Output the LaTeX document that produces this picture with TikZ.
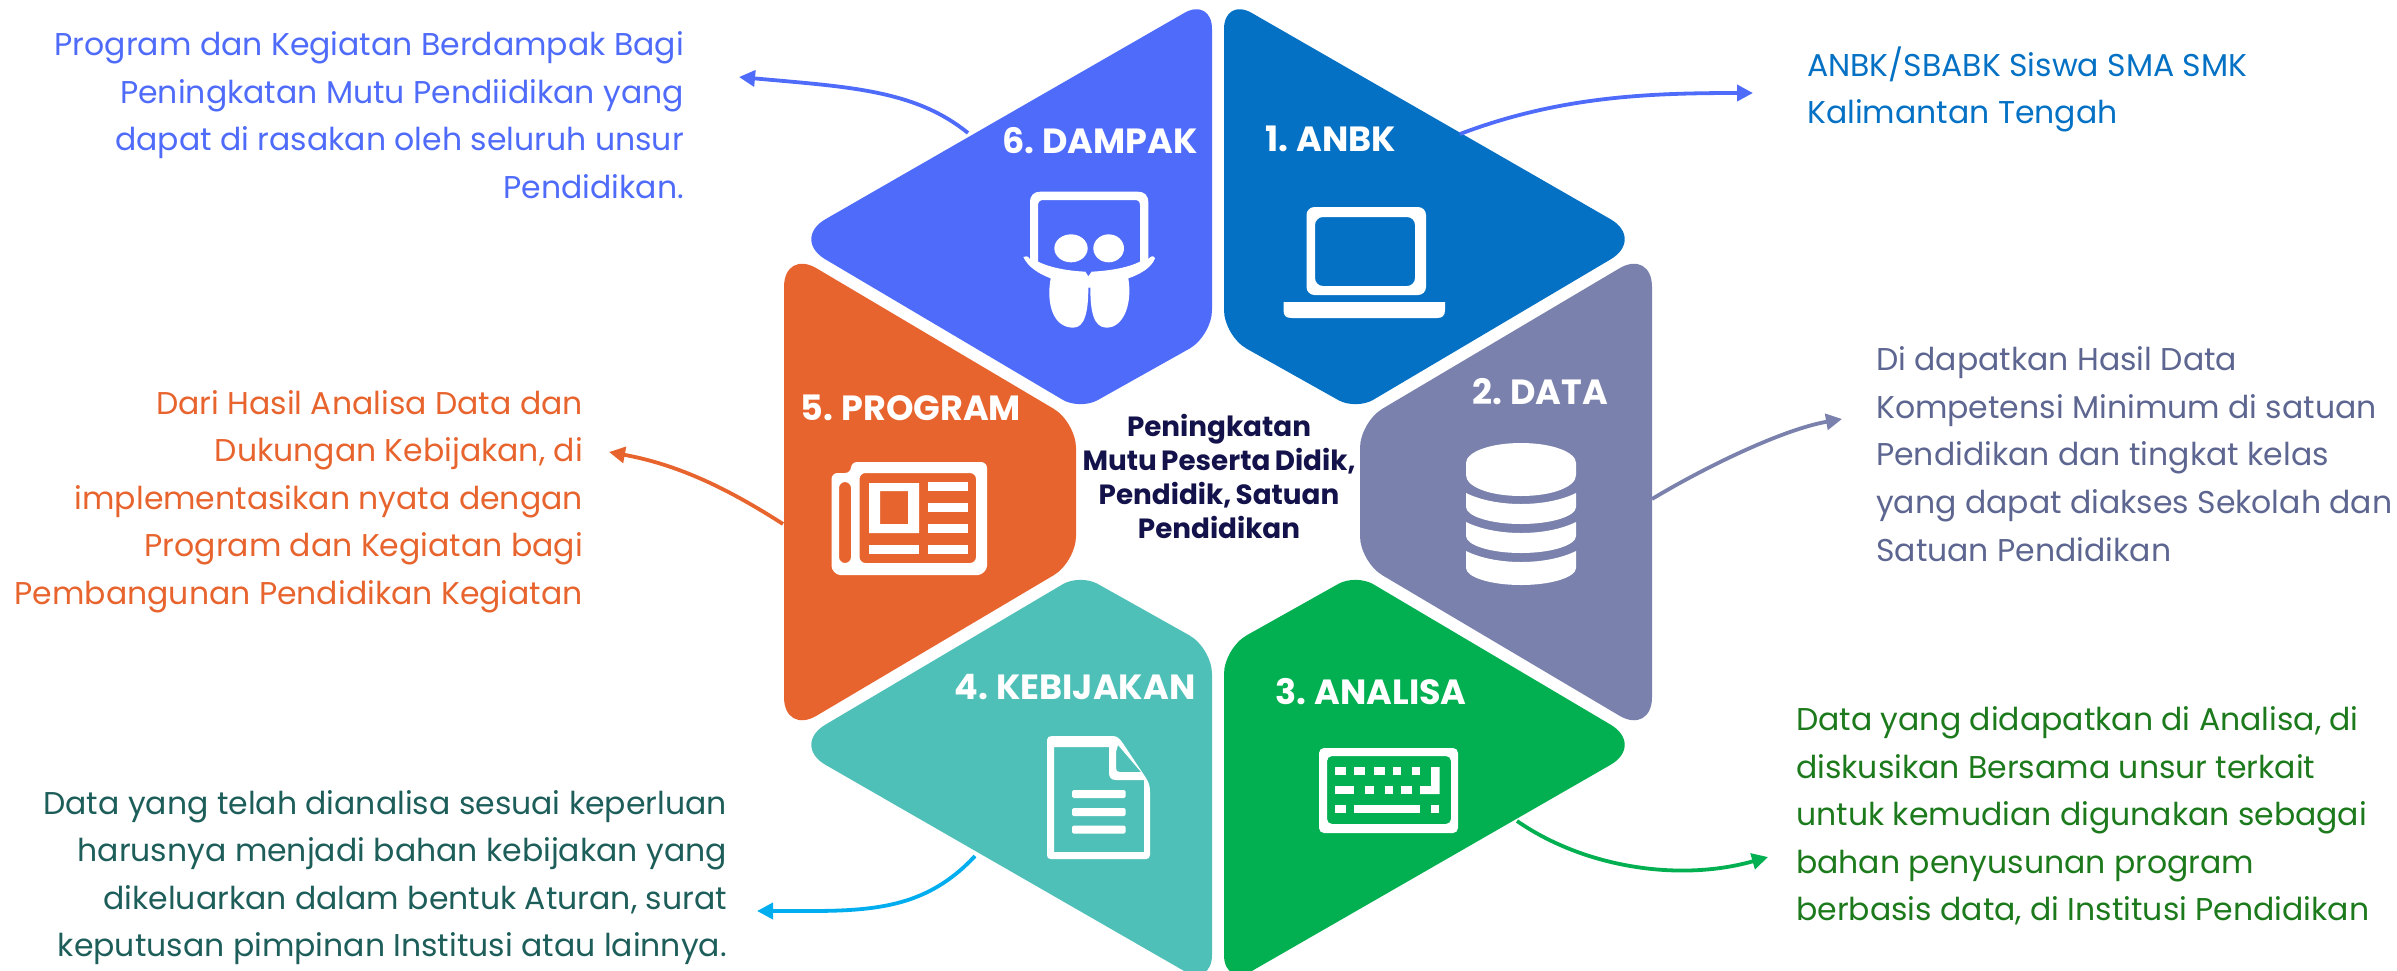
\documentclass[tikz,border=0pt]{standalone}
\usepackage{fontspec}
\setmainfont{Poppins}
\newfontfamily\tightfam[WordSpace=0.6]{Poppins}
\newfontfamily\midfam[WordSpace=0.75]{Poppins}
\usetikzlibrary{calc,arrows.meta}
\definecolor{cblue}{HTML}{0471C4}
\definecolor{cgrey}{HTML}{7A81AC}
\definecolor{cgreen}{HTML}{02B051}
\definecolor{cteal}{HTML}{4EC0B8}
\definecolor{corange}{HTML}{E8642E}
\definecolor{cperi}{HTML}{4F6BFA}
\definecolor{ccyan}{HTML}{00AEEF}
\definecolor{tgrey}{HTML}{5D6690}
\definecolor{tgreen}{HTML}{1C7A1C}
\definecolor{tteal}{HTML}{1D5E5A}
\definecolor{cnavy}{HTML}{14124A}
\newcommand\rc[4]{-- ($(#2)!#4!(#1)$) .. controls ($(#2)!{0.45*#4}!(#1)$) and ($(#2)!{0.45*#4}!(#3)$) .. ($(#2)!#4!(#3)$) }
\newcommand\hexa[5]{\fill[#1] ($(#2)!.5!(#3)$) \rc{#2}{#3}{#4}{40pt} \rc{#3}{#4}{#5}{20pt} \rc{#4}{#5}{#2}{26pt} \rc{#5}{#2}{#3}{32pt} -- cycle;}
\newcommand\hexb[5]{\fill[#1] ($(#2)!.5!(#3)$) \rc{#2}{#3}{#4}{38pt} \rc{#3}{#4}{#5}{26pt} \rc{#4}{#5}{#2}{26pt} \rc{#5}{#2}{#3}{38pt} -- cycle;}
\tikzset{
  title/.style={font=\tightfam\fontsize{35}{38}\selectfont\bfseries,text=white,inner sep=0pt},
  body/.style={font=\fontsize{31.5}{47.6}\selectfont,inner sep=0pt},
  link/.style={line width=3.8pt,-{Triangle[length=16pt,width=16pt]}},
  ic/.style={fill=white,even odd rule}
}
\begin{document}
\begin{tikzpicture}[x=1pt,y=-1pt]
\useasboundingbox (0,0) rectangle (2397,970);
\clip (0,0) rectangle (2397,970);
% hexagon corners
\coordinate (a1) at (1224,-3); \coordinate (b1) at (1645,239); \coordinate (c1) at (1356,410); \coordinate (d1) at (1224,336);
\coordinate (a6) at (1212,-3); \coordinate (b6) at (791,239); \coordinate (c6) at (1080,410); \coordinate (d6) at (1212,336);
\coordinate (a3) at (1224,987); \coordinate (b3) at (1645,745); \coordinate (c3) at (1356,574); \coordinate (d3) at (1224,648);
\coordinate (a4) at (1212,987); \coordinate (b4) at (791,745); \coordinate (c4) at (1080,574); \coordinate (d4) at (1212,648);
\coordinate (a2) at (1652,249); \coordinate (b2) at (1652,735); \coordinate (c2) at (1360,562); \coordinate (d2) at (1360,422);
\coordinate (a5) at (784,249); \coordinate (b5) at (784,735); \coordinate (c5) at (1076,562); \coordinate (d5) at (1076,422);
\hexa{cblue}{a1}{b1}{c1}{d1}
\hexa{cperi}{a6}{b6}{c6}{d6}
\hexa{cgreen}{a3}{b3}{c3}{d3}
\hexa{cteal}{a4}{b4}{c4}{d4}
\hexb{cgrey}{a2}{b2}{c2}{d2}
\hexb{corange}{a5}{b5}{c5}{d5}
% connector ends
\coordinate (s1) at (1460,134); \coordinate (e1) at (1753,93);
\coordinate (s2) at (1652,499); \coordinate (e2) at (1842,419);
\coordinate (s3) at (1517,821); \coordinate (e3) at (1768,857);
\coordinate (s4) at (975,856); \coordinate (e4) at (757,911);
\coordinate (s5) at (783,524); \coordinate (e5) at (609,452);
\coordinate (s6) at (968,133); \coordinate (e6) at (739,77);
\draw[link,cperi] (s1) .. controls (1560,96) and (1650,93) .. (e1);
\draw[link,cgrey] (s2) .. controls (1700,470) and (1780,430) .. (e2);
\draw[link,cgreen] (s3) .. controls (1585,868) and (1680,882) .. (e3);
\draw[link,ccyan] (s4) .. controls (920,915) and (860,911) .. (e4);
\draw[link,corange] (s5) .. controls (730,490) and (680,465) .. (e5);
\draw[link,cperi] (s6) .. controls (915,90) and (850,87) .. (e6);
% titles
\node[title] (t1) at (1331,139) {1. ANBK};
\node[title] (t2) at (1540,392) {2. DATA};
\node[title] (t3) at (1371,692) {3. ANALISA};
\node[title] (t4) at (1075,687) {4. KEBIJAKAN};
\node[title] (t5) at (911,408) {5. PROGRAM};
\node[title] (t6) at (1100,141) {6. DAMPAK};
% centre
\node[font=\midfam\fontsize{27.8}{34}\selectfont\bfseries,text=cnavy,align=center,inner sep=0pt] (mid) at (1219,476) {Peningkatan\\Mutu Peserta Didik,\\Pendidik, Satuan\\Pendidikan};
% body text
\node[body,text=cperi,align=right,anchor=east] (b6t) at (684,115) {Program dan Kegiatan Berdampak Bagi\\Peningkatan Mutu Pendiidikan yang\\dapat di rasakan oleh seluruh unsur\\Pendidikan.};
\node[body,text=cblue,align=left,anchor=west] (b1t) at (1807,89.5) {ANBK/SBABK Siswa SMA SMK\\Kalimantan Tengah};
\node[body,text=tgrey,align=left,anchor=west] (b2t) at (1876,454) {Di dapatkan Hasil Data\\Kompetensi Minimum di satuan\\Pendidikan dan tingkat kelas\\yang dapat diakses Sekolah dan\\Satuan Pendidikan};
\node[body,text=tgreen,align=left,anchor=west] (b3t) at (1796,816) {Data yang didapatkan di Analisa, di\\diskusikan Bersama unsur terkait\\untuk kemudian digunakan sebagai\\bahan penyusunan program\\berbasis data, di Institusi Pendidikan};
\node[body,text=tteal,align=right,anchor=east] (b4t) at (727,877.5) {Data yang telah dianalisa sesuai keperluan\\harusnya menjadi bahan kebijakan yang\\dikeluarkan dalam bentuk Aturan, surat\\keputusan pimpinan Institusi atau lainnya.};
\node[body,text=corange,align=right,anchor=east] (b5t) at (583,501.5) {Dari Hasil Analisa Data dan\\Dukungan Kebijakan, di\\implementasikan nyata dengan\\Program dan Kegiatan bagi\\Pembangunan Pendidikan Kegiatan};
% laptop
\fill[ic,rounded corners=8pt] (1306.5,207) rectangle (1426,295) (1315,217) rectangle (1415,286);
\fill[white] (1283.5,302) -- (1445,302) -- (1445,310) .. controls (1445,316) and (1442,318) .. (1437,318) -- (1292,318) .. controls (1286,318) and (1283.5,316) .. (1283.5,310) -- cycle;
% slideshare
\begin{scope}[shift={(1010,171)},x=0.3333pt,y=-0.3333pt]
\fill[ic] (40,258) .. controls (45,253) and (55,255) .. (60,265) -- (60,95) .. controls (60,72) and (72,62) .. (92,62) -- (383,62) .. controls (403,62) and (415,72) .. (415,95) -- (415,265) .. controls (420,255) and (432,252) .. (435,262) .. controls (425,290) and (390,310) .. (355,322) .. controls (368,400) and (340,470) .. (290,470) .. controls (250,470) and (241,420) .. (241,350) -- (235,350) .. controls (235,420) and (225,470) .. (190,470) .. controls (130,470) and (108,400) .. (122,322) .. controls (90,310) and (55,290) .. (40,258) -- cycle
(84,272) -- (84,103) .. controls (84,92) and (90,87) .. (100,87) -- (375,87) .. controls (385,87) and (390,92) .. (390,103) -- (390,272) .. controls (350,292) and (290,300) .. (245,302) -- (235,316) -- (226,302) .. controls (180,300) and (125,292) .. (84,272) -- cycle;
\fill[white] (183,232) ellipse [x radius=50,y radius=42];
\fill[white] (296,232) ellipse [x radius=46,y radius=42];
\end{scope}
% newspaper
\fill[ic,rounded corners=6pt] (851,462) -- (987,462) -- (987,560) .. controls (987,570) and (982,575) .. (972,575) -- (846,575) .. controls (836,575) and (831.5,570) .. (831.5,560) -- (831.5,473) -- (851,473) -- cycle (859.5,473) -- (976,473) -- (976,563) -- (859.5,563) -- cycle (839,482) -- (851,482) -- (851,563) -- (839,563) -- cycle;
\fill[ic] (869,483) rectangle (919,533) (880,491) rectangle (908,524);
\foreach \yy in {482,503,524,545} \fill[white] (928,\yy) rectangle (968,\yy+9);
\fill[white] (869,545) rectangle (919,554);
% database
\fill[white] (1466,463) .. controls (1466,452) and (1490,443) .. (1521,443) .. controls (1552,443) and (1576,452) .. (1576,463) -- (1576,475) .. controls (1576,487) and (1552,496) .. (1521,496) .. controls (1490,496) and (1466,487) .. (1466,475) -- cycle;
\foreach \dy/\hh in {0/0,29/0,58/3} {
 \fill[white] (1466,493+\dy) .. controls (1480,500+\dy) and (1500,504+\dy) .. (1521,504+\dy) .. controls (1542,504+\dy) and (1562,500+\dy) .. (1576,493+\dy) -- (1576,507+\dy+\hh) .. controls (1576,516+\dy+\hh) and (1552,524+\dy+\hh) .. (1521,524+\dy+\hh) .. controls (1490,524+\dy+\hh) and (1466,516+\dy+\hh) .. (1466,507+\dy+\hh) -- cycle;
}
% document
\fill[ic] (1047,740) .. controls (1047,737) and (1049,736) .. (1052,736) -- (1112,736) .. controls (1117,736) and (1119,738) .. (1122,742) -- (1146,778) .. controls (1149,783) and (1150,786) .. (1150,792) -- (1150,855) .. controls (1150,858) and (1148,859) .. (1146,859) -- (1051,859) .. controls (1048,859) and (1047,858) .. (1047,855) -- cycle
(1054,747) -- (1054,852) -- (1144,852) -- (1144,780) -- (1116,780) .. controls (1111,780) and (1109,777) .. (1109,773) -- (1109,747) -- cycle
(1116,752) -- (1116,768) .. controls (1116,771) and (1117,772) .. (1120,772) -- (1141,772) -- (1118,745) -- cycle;
\foreach \yy in {790,808,825.5} \fill[white,rounded corners=1.5pt] (1072,\yy) rectangle (1125.5,\yy+8);
% keyboard
\fill[ic,rounded corners=5pt] (1319,748) rectangle (1458,833) (1327,756) rectangle (1451,824);
\foreach \xa/\xb in {1012/1032,1047/1067,1082/1102,1117/1132,1152/1167} \fill[white] ({780+\xa/1.823},767) rectangle ({780+\xb/1.823},775);
\foreach \xa/\xb in {1012/1047,1067/1082,1102/1117,1132/1152} \fill[white] ({780+\xa/1.823},786) rectangle ({780+\xb/1.823},794);
\foreach \xa/\xb in {1012/1032,1047/1167,1187/1202} \fill[white] ({780+\xa/1.823},805) rectangle ({780+\xb/1.823},813);
\fill[white] (1431,767) -- (1439.5,767) -- (1439.5,794) -- (1420,794) -- (1420,786) -- (1431,786) -- cycle;
\end{tikzpicture}
\end{document}
